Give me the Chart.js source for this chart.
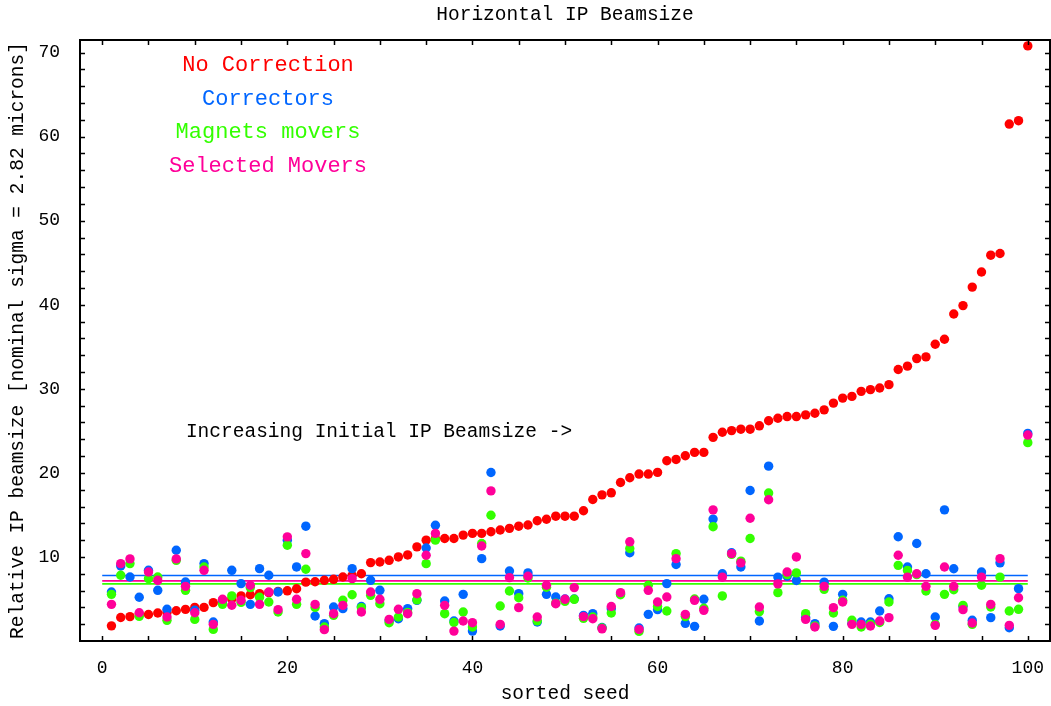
<!DOCTYPE html>
<html>
<head>
<meta charset="utf-8">
<script src="https://cdn.jsdelivr.net/npm/chart.js@4.4.1/dist/chart.umd.min.js"></script>
<style>
  html, body { margin: 0; padding: 0; background: #fff; }
  #wrap { width: 1051px; height: 706px; }
</style>
</head>
<body>
<div id="wrap"><canvas id="chart"></canvas></div>
<script>
// --- datos: indice de semilla ordenada ---
const seeds = Array.from({ length: 100 }, (_, i) => i + 1);

// Relative IP beamsize por serie
const noCorrection = [
  1.8, 2.8, 2.9, 3.2, 3.15, 3.33, 3.4, 3.6, 3.76, 4.0,
  4.0, 4.56, 4.8, 5.0, 5.36, 5.5, 5.63, 5.75, 5.9, 5.97,
  6.21, 7.0, 7.05, 7.22, 7.34, 7.62, 7.82, 8.0, 9.33, 9.4,
  9.6, 10.0, 10.24, 11.2, 12.0, 12.2, 12.2, 12.2, 12.6, 12.8,
  12.8, 13.0, 13.2, 13.4, 13.66, 13.8, 14.3, 14.49, 14.85, 14.85,
  14.85, 15.49, 16.84, 17.39, 17.63, 18.86, 19.42, 19.86, 19.86, 20.06,
  21.45, 21.6, 22.04, 22.44, 22.44, 24.23, 24.83, 25.03, 25.2, 25.2,
  25.6, 26.2, 26.5, 26.7, 26.7, 26.9, 27.1, 27.5, 28.3, 28.9,
  29.1, 29.7, 29.9, 30.1, 30.5, 32.3, 32.7, 33.6, 33.8, 35.3,
  35.9, 38.9, 39.9, 42.1, 43.9, 45.9, 46.1, 61.5, 61.9, 70.8
];
const correctors = [
  5.83, 8.93, 7.62, 5.2, 8.41, 6.03, 3.77, 10.8, 7.02, 3.65,
  9.21, 2.26, 4.7, 8.41, 6.83, 4.36, 8.61, 7.82, 5.83, 12.0,
  8.81, 13.66, 2.97, 2.06, 4.04, 3.85, 8.61, 4.1, 7.22, 6.03,
  2.4, 2.65, 3.85, 4.84, 11.07, 13.77, 4.76, 2.38, 5.55, 1.18,
  9.8, 20.05, 1.78, 8.33, 5.63, 8.1, 2.26, 5.55, 5.24, 5.0,
  5.0, 3.05, 3.25, 1.6, 3.85, 5.6, 10.5, 1.55, 3.17, 3.73,
  6.83, 9.1, 2.1, 1.74, 4.96, 14.5, 8.0, 10.5, 8.8, 17.9,
  2.38, 20.8, 7.6, 7.7, 7.2, 2.8, 2.06, 7.0, 1.74, 5.55,
  2.1, 2.26, 2.26, 3.57, 5.03, 12.4, 8.8, 11.6, 8.0, 2.85,
  15.6, 8.6, 4.1, 2.46, 8.2, 2.78, 9.3, 1.58, 6.23, 24.7
];
const magnetsMovers = [
  5.55, 7.82, 9.21, 2.93, 7.42, 7.62, 2.46, 9.6, 6.03, 2.57,
  8.8, 1.38, 4.36, 5.36, 4.6, 6.35, 5.2, 4.64, 3.45, 11.4,
  4.36, 8.53, 4.0, 1.66, 3.05, 4.84, 5.5, 3.97, 5.43, 4.44,
  2.18, 2.85, 3.4, 4.9, 9.2, 12.0, 3.25, 2.2, 3.45, 1.66,
  11.6, 14.96, 4.16, 5.95, 5.15, 7.5, 2.4, 6.4, 4.5, 4.72,
  4.96, 2.7, 2.85, 1.55, 3.33, 5.5, 11.0, 1.14, 6.63, 4.1,
  3.57, 10.4, 2.9, 5.0, 3.9, 13.6, 5.36, 10.3, 9.5, 12.2,
  3.5, 17.6, 5.75, 7.9, 8.1, 3.25, 1.8, 6.15, 3.33, 4.84,
  2.46, 1.66, 2.0, 2.2, 4.64, 9.0, 8.4, 7.9, 5.95, 1.98,
  5.55, 6.1, 4.24, 1.98, 6.63, 4.04, 7.6, 3.57, 3.77, 23.6
];
const selectedMovers = [
  4.36, 9.21, 9.77, 3.36, 8.21, 7.22, 2.85, 9.77, 6.5, 3.36,
  8.41, 1.98, 4.96, 4.25, 4.84, 6.63, 4.36, 5.83, 3.73, 12.39,
  4.96, 10.4, 4.36, 1.35, 3.25, 4.24, 7.42, 3.45, 5.83, 4.96,
  2.57, 3.77, 3.25, 5.63, 10.2, 12.8, 4.24, 1.18, 2.38, 2.18,
  11.3, 17.86, 1.98, 7.54, 3.97, 7.7, 2.85, 6.63, 4.44, 4.96,
  6.35, 2.9, 2.65, 1.45, 4.1, 5.75, 11.8, 1.38, 6.03, 4.64,
  5.24, 9.8, 3.17, 4.84, 3.65, 15.6, 7.6, 10.4, 9.3, 14.6,
  4.04, 16.8, 6.8, 8.2, 10.0, 2.57, 1.66, 6.5, 3.97, 4.64,
  1.98, 1.98, 1.78, 2.38, 2.78, 10.2, 7.6, 8.0, 6.5, 1.86,
  8.8, 6.5, 3.73, 2.14, 7.6, 4.36, 9.8, 1.86, 5.15, 24.5
];

// lineas de nivel medio (correctors, selected, magnets)
const meanLevels = [7.8, 7.15, 6.8];
const meanSpan = [0, 100];

const seriesNames = ['No Correction', 'Correctors', 'Magnets movers', 'Selected Movers'];
const annotation = 'Increasing Initial IP Beamsize ->';

// colores
const RED = '#ff0000';
const BLUE = '#0066ff';
const GREEN = '#33ff00';
const PINK = '#ff0099';
const MONO = "'Liberation Mono', 'Courier New', monospace";

const pts = (arr) => seeds.map((s, i) => ({ x: s, y: arr[i] }));
const flat = (v) => meanSpan.map(x => ({ x: x, y: v }));

function dots(label, arr, color, order) {
  return {
    type: 'scatter', label, data: pts(arr), order,
    backgroundColor: color, borderWidth: 0,
    pointRadius: 4.7, pointHoverRadius: 4.7
  };
}
function level(v, color, order) {
  return {
    type: 'line', data: flat(v), order,
    borderColor: color, borderWidth: 1.6,
    pointRadius: 0, fill: false
  };
}

// --- plugin: marco, ticks hacia dentro, textos ---
const frame = {
  id: 'frame',
  afterDraw(chart) {
    const { ctx, chartArea: a, scales: { x, y } } = chart;
    ctx.save();
    ctx.strokeStyle = '#000';
    ctx.lineWidth = 2;
    ctx.strokeRect(a.left, a.top, a.right - a.left, a.bottom - a.top);

    ctx.lineWidth = 1.5;
    ctx.beginPath();
    const tl = 5;
    x.ticks.forEach(t => {
      if (t.value % 5 !== 0) return;
      const px = Math.round(x.getPixelForValue(t.value)) + 0.5;
      ctx.moveTo(px, a.bottom); ctx.lineTo(px, a.bottom - tl);
      ctx.moveTo(px, a.top); ctx.lineTo(px, a.top + tl);
    });
    y.ticks.forEach(t => {
      if (t.value <= 0) return;
      const py = Math.round(y.getPixelForValue(t.value)) + 0.5;
      ctx.moveTo(a.left, py); ctx.lineTo(a.left + tl, py);
      ctx.moveTo(a.right, py); ctx.lineTo(a.right - tl, py);
    });
    ctx.stroke();

    // titulo centrado sobre el area de la grafica
    ctx.textAlign = 'center';
    ctx.textBaseline = 'middle';
    ctx.fillStyle = '#000';
    ctx.font = '19.5px ' + MONO;
    const cx = (a.left + a.right) / 2;
    ctx.fillText('Horizontal IP Beamsize', cx, 15);
    ctx.fillText(annotation, 379, 432);

    // leyenda dentro del grafico
    const cols = [RED, BLUE, GREEN, PINK];
    const rows = [65, 99, 132, 166];
    ctx.font = '22px ' + MONO;
    seriesNames.forEach((n, i) => {
      ctx.fillStyle = cols[i];
      ctx.fillText(n, 268, rows[i]);
    });
    ctx.restore();
  }
};

new Chart(document.getElementById('chart'), {
  data: {
    datasets: [
      dots(seriesNames[3], selectedMovers, PINK, 1),
      dots(seriesNames[2], magnetsMovers, GREEN, 2),
      dots(seriesNames[1], correctors, BLUE, 3),
      dots(seriesNames[0], noCorrection, RED, 4),
      level(meanLevels[1], PINK, 5),
      level(meanLevels[2], GREEN, 6),
      level(meanLevels[0], BLUE, 7)
    ]
  },
  options: {
    responsive: true,
    maintainAspectRatio: false,
    animation: false,
    events: [],
    layout: { autoPadding: false, padding: { top: 40, right: 1, left: 0, bottom: 0 } },
    plugins: { legend: { display: false }, tooltip: { enabled: false } },
    scales: {
      x: {
        type: 'linear', min: -2.4, max: 102.4,
        afterFit: (s) => { s.height = 65; s.paddingLeft = 0; s.paddingRight = 0; },
        grid: { display: false, drawTicks: false },
        border: { display: false },
        ticks: {
          stepSize: 5, includeBounds: false, autoSkip: false, maxRotation: 0,
          padding: 16, color: '#000',
          font: { family: MONO, size: 18 },
          callback: (v) => (v % 20 === 0 ? String(v) : '')
        },
        title: {
          display: true, text: 'sorted seed', color: '#000',
          font: { family: MONO, size: 19.5 },
          padding: { top: 0, bottom: 0 }
        }
      },
      y: {
        type: 'linear', min: 0, max: 71.5,
        afterFit: (s) => { s.width = 80; s.paddingTop = 0; s.paddingBottom = 0; },
        grid: { display: false, drawTicks: false },
        border: { display: false },
        ticks: {
          stepSize: 2, includeBounds: false, autoSkip: false,
          padding: 20, color: '#000',
          font: { family: MONO, size: 18 },
          callback: (v) => (v > 0 && v % 10 === 0 ? String(v) : '')
        },
        title: {
          display: true, text: 'Relative IP beamsize [nominal sigma = 2.82 microns]',
          color: '#000',
          font: { family: MONO, size: 19.5 },
          padding: { top: 6, bottom: 0 }
        }
      }
    }
  },
  plugins: [frame]
});
</script>
</body>
</html>
